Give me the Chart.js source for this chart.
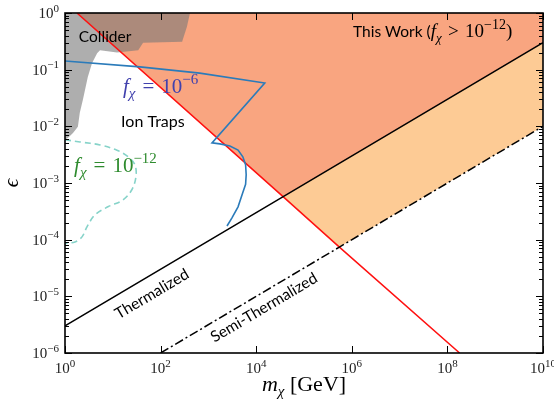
<!DOCTYPE html>
<html>
<head>
<meta charset="utf-8">
<script src="https://cdn.jsdelivr.net/npm/chart.js@4/dist/chart.umd.min.js"></script>
<style>
  html, body { margin: 0; padding: 0; background: #fff; }
  canvas { display: block; }
</style>
</head>
<body>
<canvas id="c" width="554" height="403"></canvas>
<script>
// ---- data (x = m_chi in GeV, y = epsilon) ----
const xTicks = [1, 1e2, 1e4, 1e6, 1e8, 1e10];
const xTickExp = ["0", "2", "4", "6", "8", "10"];
const yTicks = [1e-6, 1e-5, 1e-4, 1e-3, 1e-2, 1e-1, 1];
const yTickExp = ["−6", "−5", "−4", "−3", "−2", "−1", "0"];

// red line (this work bound)
const redMass = [1.78, 3.6e4, 5.5e5, 1.8e8];
const redEps = [1, 5.8e-4, 7.4e-5, 1e-6];
// thermalized line
const thermMass = [1, 3.6e4, 1e10];
const thermEps = [3e-6, 5.7e-4, 0.3];
// semi-thermalized line
const semiMass = [100, 5.5e5, 1e10];
const semiEps = [1e-6, 7.4e-5, 1e-2];

// collider excluded region (outline)
const colliderMass = [1, 412, 355, 282, 43, 34, 12.3, 5.4, 4.7, 3.67, 3.0, 2.38, 2.04, 1.86, 1.47, 1.16, 1];
const colliderEps = [1, 1, 0.57, 0.31, 0.30, 0.22, 0.20, 0.22, 0.195, 0.13, 0.074, 0.030, 0.0174, 0.0098, 0.0076, 0.0063, 0.0058];

// ion trap curve f_chi = 1e-6
const ion6Mass = [1, 37, 660, 1.51e4, 1190, 1740, 2820, 4170, 5250, 6000, 6170, 6000, 5250, 4170, 3090, 2450];
const ion6Eps = [0.142, 0.112, 0.087, 0.058, 0.0051, 0.0049, 0.0045, 0.0038, 0.0029, 0.0021, 0.0014, 0.00095, 6.8e-4, 3.8e-4, 2.4e-4, 1.74e-4];

// ion trap curve f_chi = 1e-12
const ion12Mass = [1, 2.06, 5.4, 12.2, 20.9, 29, 30.5, 25, 16.2, 7.9, 4.25, 2.9, 2.27, 1.62, 1.1, 1];
const ion12Eps = [0.0058, 0.0053, 0.0047, 0.0038, 0.0029, 0.0021, 0.00129, 7.6e-4, 5.0e-4, 3.8e-4, 2.75e-4, 1.7e-4, 1.12e-4, 9.1e-5, 8.7e-5, 8.5e-5];

const pts = (xs, ys) => xs.map((x, i) => ({ x: x, y: ys[i] }));

// fill boundaries built from the lines above
const salmonEdge = [
  { x: redMass[0], y: redEps[0] },
  { x: redMass[1], y: redEps[1] },
  { x: thermMass[2], y: thermEps[2] },
];
const orangeEdge = [
  { x: redMass[1], y: redEps[1] },
  { x: redMass[2], y: redEps[2] },
  { x: semiMass[2], y: semiEps[2] },
];

const SERIF = "'Liberation Serif', 'DejaVu Serif', serif";
const SANS = "Lato, 'Open Sans', sans-serif";
const EQ = "\u2004=\u2004";

function drawRuns(ctx, runs, x, y, align) {
  let w = 0;
  runs.forEach(r => { ctx.font = r.font; w += ctx.measureText(r.t).width; });
  let cx = align === "center" ? x - w / 2 : align === "right" ? x - w : x;
  ctx.textAlign = "left";
  runs.forEach(r => {
    ctx.font = r.font;
    ctx.fillStyle = r.color || "#000";
    ctx.fillText(r.t, cx, y + (r.dy || 0));
    cx += ctx.measureText(r.t).width;
  });
}
const pow10 = (exp, size, color) => [
  { t: "10", font: size + "px " + SERIF, color: color },
  { t: exp, font: Math.round(size * 0.72) + "px " + SERIF, dy: -size * 0.42, color: color },
];
const fchi = (size, color) => [
  { t: "f", font: "italic " + size + "px " + SERIF, color: color },
  { t: "χ", font: "italic " + Math.round(size * 0.7) + "px " + SERIF, dy: size * 0.25, color: color },
];

// ---- axes, ticks, labels ----
const decor = {
  id: "decor",
  afterDraw(chart) {
    const ctx = chart.ctx;
    const a = chart.chartArea;
    const xs = chart.scales.x, ys = chart.scales.y;
    ctx.save();
    ctx.textBaseline = "alphabetic";

    // tick marks (inward, all four sides)
    ctx.strokeStyle = "#000";
    ctx.lineWidth = 1;
    ctx.beginPath();
    xTicks.forEach(v => {
      const px = Math.round(xs.getPixelForValue(v)) + 0.5;
      ctx.moveTo(px, a.bottom); ctx.lineTo(px, a.bottom - 7);
      ctx.moveTo(px, a.top); ctx.lineTo(px, a.top + 7);
    });
    yTicks.forEach((v, i) => {
      const py = Math.round(ys.getPixelForValue(v)) + 0.5;
      ctx.moveTo(a.left, py); ctx.lineTo(a.left + 7, py);
      ctx.moveTo(a.right, py); ctx.lineTo(a.right - 7, py);
      if (i < yTicks.length - 1) {
        for (let k = 2; k <= 9; k++) {
          const pm = Math.round(ys.getPixelForValue(v * k)) + 0.5;
          ctx.moveTo(a.left, pm); ctx.lineTo(a.left + 4, pm);
          ctx.moveTo(a.right, pm); ctx.lineTo(a.right - 4, pm);
        }
      }
    });
    ctx.stroke();

    // frame
    ctx.lineWidth = 1.6;
    ctx.strokeRect(a.left, a.top, a.right - a.left, a.bottom - a.top);

    // tick labels
    xTicks.forEach((v, i) => {
      drawRuns(ctx, pow10(xTickExp[i], 15, "#222"), xs.getPixelForValue(v), a.bottom + 20, "center");
    });
    yTicks.forEach((v, i) => {
      drawRuns(ctx, pow10(yTickExp[i], 15, "#222"), a.left - 6, ys.getPixelForValue(v) + 5, "right");
    });

    // axis titles
    drawRuns(ctx, [
      { t: "m", font: "italic 22px " + SERIF },
      { t: "χ", font: "italic 15px " + SERIF, dy: 5 },
      { t: " [GeV]", font: "22px " + SERIF },
    ], (a.left + a.right) / 2, a.bottom + 38, "center");
    ctx.save();
    ctx.translate(18, (a.top + a.bottom) / 2);
    ctx.rotate(-Math.PI / 2);
    drawRuns(ctx, [{ t: "ϵ", font: "italic 21px " + SERIF }], 0, 0, "center");
    ctx.restore();

    // region labels
    const P = (x, y) => [xs.getPixelForValue(x), ys.getPixelForValue(y)];
    let p = P(6.9, 0.37);
    drawRuns(ctx, [{ t: "Collider", font: "15.5px " + SANS }], p[0], p[1] + 5, "center");

    p = P(1.06e6, 0.375);
    drawRuns(ctx, [{ t: "This Work (", font: "15.5px " + SANS }]
      .concat(fchi(19))
      .concat([{ t: EQ.replace("=", ">"), font: "19px " + SERIF }])
      .concat(pow10("−12", 19))
      .concat([{ t: ")", font: "19px " + SERIF }]), p[0], p[1], "left");

    p = P(16.3, 0.0388);
    drawRuns(ctx, fchi(21, "#4141ad")
      .concat([{ t: EQ, font: "21px " + SERIF, color: "#4141ad" }])
      .concat(pow10("−6", 21, "#4141ad")), p[0], p[1], "left");

    p = P(69, 0.012);
    drawRuns(ctx, [{ t: "Ion Traps", font: "16px " + SANS }], p[0], p[1] + 5, "center");

    p = P(1.55, 0.00159);
    drawRuns(ctx, fchi(21, "#2e8b2e")
      .concat([{ t: EQ, font: "21px " + SERIF, color: "#2e8b2e" }])
      .concat(pow10("−12", 21, "#2e8b2e")), p[0], p[1], "left");

    // rotated labels follow the slope of their line
    const angleOf = (m, e) => {
      const p0 = P(m[0], e[0]), p1 = P(m[m.length - 1], e[e.length - 1]);
      return Math.atan2(p1[1] - p0[1], p1[0] - p0[0]);
    };
    p = P(66, 1.1e-5);
    ctx.save();
    ctx.translate(p[0], p[1]);
    ctx.rotate(angleOf(thermMass, thermEps));
    drawRuns(ctx, [{ t: "Thermalized", font: "15.5px " + SANS }], 0, 5, "center");
    ctx.restore();

    p = P(1.46e4, 6.3e-6);
    ctx.save();
    ctx.translate(p[0], p[1]);
    ctx.rotate(angleOf(semiMass, semiEps));
    drawRuns(ctx, [{ t: "Semi-Thermalized", font: "15.5px " + SANS }], 0, 5, "center");
    ctx.restore();

    ctx.restore();
  }
};

new Chart(document.getElementById("c"), {
  type: "scatter",
  data: {
    datasets: [
      { data: orangeEdge, showLine: true, fill: "end", backgroundColor: "#fdcb95", borderWidth: 0, pointRadius: 0, order: 10 },
      { data: salmonEdge, showLine: true, fill: "end", backgroundColor: "#f9a580", borderWidth: 0, pointRadius: 0, order: 9 },
      { data: pts(colliderMass, colliderEps), showLine: true, fill: "shape", backgroundColor: "rgba(120,120,120,0.6)", borderWidth: 0, pointRadius: 0, order: 8 },
      { data: pts(redMass, redEps), showLine: true, borderColor: "#ff1010", borderWidth: 1.5, pointRadius: 0, order: 7 },
      { data: pts(thermMass, thermEps), showLine: true, borderColor: "#000", borderWidth: 1.5, pointRadius: 0, order: 6 },
      { data: pts(semiMass, semiEps), showLine: true, borderColor: "#000", borderWidth: 1.5, borderDash: [9, 3, 2, 3], pointRadius: 0, order: 5 },
      { data: pts(ion6Mass, ion6Eps), showLine: true, borderColor: "#2b7bba", borderWidth: 1.6, tension: 0, pointRadius: 0, order: 4 },
      { data: pts(ion12Mass, ion12Eps), showLine: true, borderColor: "#86d3c9", borderWidth: 1.6, borderDash: [6, 4], tension: 0.35, pointRadius: 0, order: 3 },
    ],
  },
  options: {
    responsive: false,
    animation: false,
    devicePixelRatio: 1,
    layout: { padding: { top: 13, right: 11, left: 0, bottom: 0 } },
    plugins: { legend: { display: false }, tooltip: { enabled: false } },
    scales: {
      x: {
        type: "logarithmic", min: 1, max: 1e10,
        grid: { display: false }, border: { display: false }, ticks: { display: false },
        afterFit: s => { s.height = 50; },
      },
      y: {
        type: "logarithmic", min: 1e-6, max: 1,
        grid: { display: false }, border: { display: false }, ticks: { display: false },
        afterFit: s => { s.width = 65; },
      },
    },
  },
  plugins: [decor],
});
</script>
</body>
</html>
